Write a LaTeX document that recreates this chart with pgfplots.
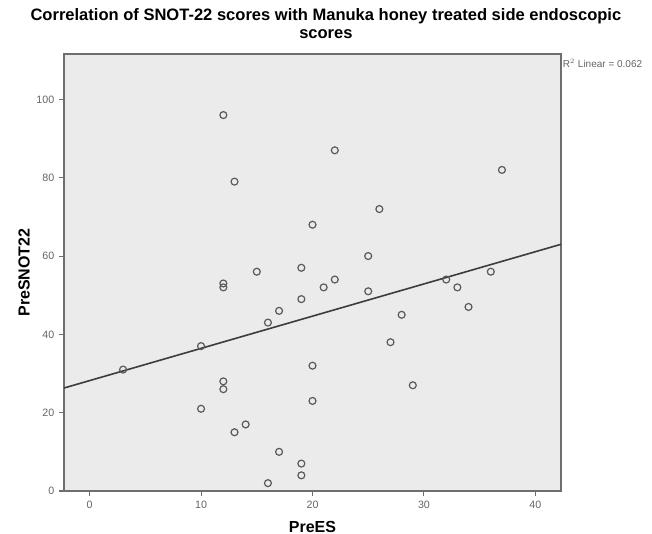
\documentclass[border=0pt]{standalone}
\usepackage{pgfplots}
\pgfplotsset{compat=1.18}
\usepackage{fontspec}
\setmainfont{Liberation Sans}
\definecolor{plotbg}{RGB}{235,235,235}
\definecolor{framecol}{RGB}{110,110,110}
\definecolor{markcol}{RGB}{90,90,90}
\definecolor{fitcol}{RGB}{60,60,60}
\definecolor{ticklab}{RGB}{100,100,100}

% PreES vs PreSNOT22
\pgfplotstableread{
x  y
12 96
13 79
22 87
37 82
26 72
20 68
25 60
15 56
19 57
12 53
12 52
22 54
21 52
25 51
19 49
17 46
16 43
10 37
3  31
12 28
12 26
10 21
14 17
13 15
17 10
19 7
19 4
16 2
20 32
20 23
28 45
27 38
29 27
32 54
33 52
34 47
36 56
}\scores

\begin{document}
\begin{tikzpicture}
\useasboundingbox (0,0) rectangle (489pt,400.5pt);
\begin{axis}[
    at={(48pt,32.25pt)}, anchor=south west,
    scale only axis,
    width=372.75pt, height=327.75pt,
    xmin=-2.3, xmax=42.3,
    ymin=0, ymax=111.6,
    xtick={0,10,...,40},
    ytick={0,20,...,100},
    tick align=outside,
    tick pos=left,
    major tick length=3.75pt,
    axis line style={framecol, line width=0.9pt},
    every tick/.style={framecol, line width=0.8pt},
    axis background/.style={fill=plotbg},
    tick label style={font=\fontsize{8}{9.5}\selectfont, text=ticklab},
    /pgf/number format/assume math mode=true,
    title={Correlation of SNOT-22 scores with Manuka honey treated side endoscopic\\scores},
    title style={at={(axis description cs:0.527,1.052)}, anchor=center,
        align=center, font=\fontsize{12.4}{13.5}\selectfont\bfseries},
    xlabel={PreES},
    ylabel={PreSNOT22},
    xlabel style={at={(axis description cs:0.5,-0.082)}, anchor=center,
        font=\fontsize{12}{14}\selectfont\bfseries},
    ylabel style={at={(axis description cs:-0.08,0.5)}, anchor=center,
        font=\fontsize{12}{14}\selectfont\bfseries},
    clip=false,
]
\addplot[only marks, mark=o, mark size=2.6pt, mark options={markcol, line width=0.9pt}]
    table[x=x, y=y] {\scores};
\addplot[fitcol, line width=1.2pt] coordinates {(-2.3,26.3) (42.3,63.0)};
\node[anchor=west, font=\fontsize{7.5}{8.5}\selectfont, text=ticklab, inner sep=0pt]
    at (axis description cs:1.003,0.979) {R$^2$ Linear = 0.062};
\end{axis}
\end{tikzpicture}
\end{document}
